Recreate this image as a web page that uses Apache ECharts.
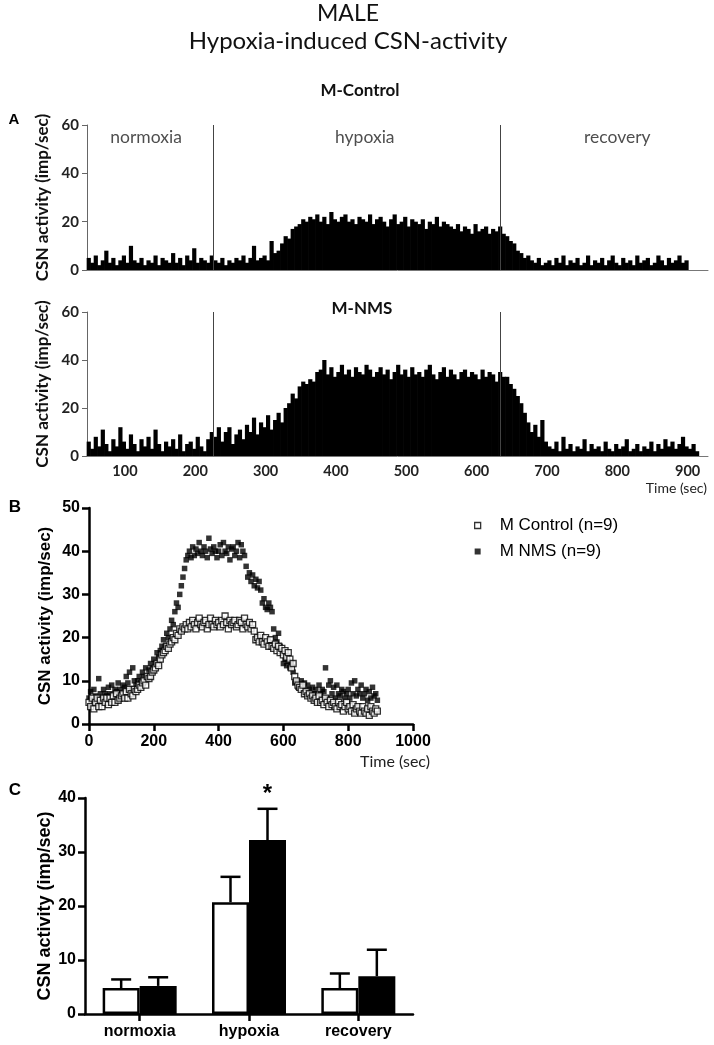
<!DOCTYPE html>
<html>
<head>
<meta charset="utf-8">
<script src="https://cdn.jsdelivr.net/npm/echarts@6/dist/echarts.min.js"></script>
<style>
  html, body { margin: 0; padding: 0; background: #fff; }
  #chart { width: 714px; height: 1045px; }
</style>
</head>
<body>
<div id="chart"></div>
<script>
// ---- panel A : single-fibre rate histograms, 5 s bins starting at traceStart (sec)
var traceStart = 46;
var traceBin = 5;
var ctrlTrace = [
  5,3,6,2,4,8,3,5,2,4, 6,3,10,4,3,5,2,4,3,6, 2,5,4,3,7,3,5,2,6,4, 9,3,5,4,3,6,
  4,3,5,2,4,3,5,4,6,3, 5,10,4,5,6,4,12,7,
  8,11,14,13,17,18,19,21,20,22,
  21,23,20,22,19,24,21,20,22,23, 20,21,19,22,21,20,23,19,21,22, 20,18,21,23,19,20,22,18,21,20, 19,21,17,20,19,22,18,20,19,
  18,17,19,16,18,17,15,19,16,17, 18,15,17,16,18,
  15,14,12,11,8,7,5,6,
  4,3,5,2,3,4,2,5,3,6, 2,4,3,5,2,3,6,2,4,3, 5,2,4,6,3,2,5,3,4,2, 6,3,4,5,2,3,6,4,2,5, 3,4,6,3,4
];
var nmsTrace = [
  6,3,8,4,11,5,2,7,4,12, 6,3,9,5,2,7,4,8,3,11, 5,2,6,4,7,3,9,2,5,6, 3,8,4,2,7,10,
  8,12,6,10,12,5,9,11,7,13, 10,16,9,14,12,17,11,15,18,14, 20,22,
  26,24,29,31,30,32,31,35,
  36,40,34,37,33,35,38,34,36,33, 37,35,34,38,36,33,35,37,34,36, 32,35,38,34,36,33,37,34,35,33,
  36,38,34,32,35,37,33,36,34,32, 35,36,33,35,34,32,36,33,35,34, 31,35,33,
  33,30,28,25,22,18,14,10,13,8, 15,6,
  4,3,6,2,8,3,5,2,4,3, 7,2,5,3,4,2,6,3,2,5, 3,4,7,2,3,5,2,4,3,6, 2,5,3,7,4,6,3,5,8,4, 3,5,2
];
var hypoxiaOn = 226;
var hypoxiaOff = 633;
var phaseNames = ['normoxia', 'hypoxia', 'recovery'];
var phaseLabelTimes = [130, 441, 800];
var traceTicks = [100, 200, 300, 400, 500, 600, 700, 800, 900];

// ---- panel B : group means, one point every 5 s from 0 s
var scatterStep = 5;
var ctrlMeanTrace = [
  5,4,6,3.5,5,6,4,5.5,4,6,
  5,6,4.5,6,5,6.5,5,7,5.5,6,
  6.5,7,6,7.5,6,8,7,6.5,8,7.5,
  8,9,8.5,9.5,10,9,11,10.5,11,12,
  12.5,13,14,13.5,15,16,16.5,17,18,17.5,
  18.5,19,20,19.5,21,20.5,22,21.5,22.5,22,
  23,22,23.5,22.5,24,23,22,23.5,24.5,23,
  22.5,23.5,24,22,23,24.5,23,22.5,24,23,
  23.5,22.5,24,23,25,23.5,22,24,23,23.5,
  24,22.5,23,24,23.5,22,24.5,23,22.5,23.5,
  22,23,21.5,19.5,20,19,20.5,19,18.5,20,
  19,18,19.5,18,17.5,18.5,17,18,16.5,17.5,
  16,17,15.5,16.5,15,13,14,11,10,9,
  8.5,8,9,7,7.5,6.5,7,6,6.5,5.5,
  6,5,6.5,5,5.5,4.5,6,5,4,5.5,
  4.5,5,4,3.5,5,4,4.5,3,4,5,
  3.5,4,3,4.5,2.5,3.5,4,3,2.5,4,
  3,2.5,3.5,2,4,3,2.5,3.5,3
];
var nmsMeanTrace = [
  6,7.5,5.5,8,6.5,5,10.5,7,6,8,
  7,6.5,8.5,7,9,6.5,8,7.5,9.5,8,
  7,9,8.5,11,9.5,12,8,13,10,9,
  10,11,9.5,12,11,13,10.5,12.5,14,13,
  15,14,16.5,15.5,17,18,19.5,18,21,20,
  22,24,23,26,28,27,30,32,34,36,
  38,39,40,38.5,41,39,40.5,39.5,42,40,
  39,41,40,38.5,43,40.5,39.5,41,40,38.5,
  40,41.5,39,42,40,39.5,41,38,40.5,41,
  39,40,42,38.5,41.5,40,39,36.5,34,35,
  33,34.5,32,33.5,31.5,33,31,28,29,27,
  26.5,28,27,26,22,20,19,21,18,17,
  14,15,13.5,14.5,13,14,12,9.5,10,8.5,
  9,10,8,9.5,7.5,9,8,7,8.5,7,
  8,6.5,9,7,8,7.5,13,6,9,10,
  7,8.5,6,9,7,6.5,8,7.5,6,7,
  8,6,9.5,7,10,6.5,8,7,9,6,
  7,8,5.5,7.5,6,8.5,6.5,7,5.5
];

// ---- panel C : phase means with SEM
var ctrlMean = [4.8, 20.7, 4.8];
var ctrlSem = [1.6, 4.7, 2.7];
var nmsMean = [5.2, 32.2, 7.0];
var nmsSem = [1.6, 5.8, 4.9];
var sigMarks = ['', '*', ''];

var CALIBRI = 'Lato, "Open Sans", sans-serif';
var ARIAL = '"Liberation Sans", Arial, sans-serif';
var BAR_W = 37;

function histData(values) {
  return values.map(function (v, i) { return [traceStart + i * traceBin + traceBin / 2, v]; });
}
function scatterData(values) {
  return values.map(function (v, i) { return [i * scatterStep, v]; });
}

function phaseMarks() {
  return {
    silent: true,
    symbol: 'none',
    label: { show: false },
    lineStyle: { color: '#444', width: 1, type: 'solid' },
    data: [{ xAxis: hypoxiaOn }, { xAxis: hypoxiaOff }]
  };
}

function traceY(grid) {
  return {
    gridIndex: grid, type: 'value', min: 0, max: 60, interval: 20,
    name: 'CSN activity (imp/sec)', nameLocation: 'middle', nameGap: 32,
    nameTextStyle: { fontFamily: CALIBRI, fontWeight: 'bold', fontSize: 17, color: '#111' },
    axisLine: { show: true, lineStyle: { color: '#666', width: 1 } },
    axisTick: { show: true, length: 5, lineStyle: { color: '#666' } },
    axisLabel: { fontFamily: CALIBRI, fontWeight: 'bold', fontSize: 15, color: '#222', margin: 8 },
    splitLine: { show: false }
  };
}

function traceX(grid, withLabels) {
  return {
    gridIndex: grid, type: 'value', min: traceStart, max: 929,
    axisLine: { show: true, onZero: false, lineStyle: { color: '#777', width: 1 } },
    axisTick: { show: false },
    axisLabel: {
      show: withLabels, customValues: traceTicks,
      fontFamily: CALIBRI, fontWeight: 'bold', fontSize: 14.5, color: '#222', margin: 8
    },
    splitLine: { show: false }
  };
}

// error bars drawn on top of the grouped bars
function errorBars(offset, marks) {
  return function (params, api) {
    var i = api.value(0), m = api.value(1), s = api.value(2);
    var base = api.coord([i, m]);
    var top = api.coord([i, m + s]);
    var x = base[0] + offset;
    var style = { stroke: '#000', lineWidth: 2.5 };
    var kids = [
      { type: 'line', shape: { x1: x, y1: base[1], x2: x, y2: top[1] }, style: style },
      { type: 'line', shape: { x1: x - 10, y1: top[1], x2: x + 10, y2: top[1] }, style: style }
    ];
    if (marks && marks[i]) {
      kids.push({ type: 'text', style: {
        text: marks[i], x: x, y: top[1] - 14, align: 'center', verticalAlign: 'middle',
        font: 'bold 24px ' + ARIAL, fill: '#000'
      } });
    }
    return { type: 'group', children: kids };
  };
}

var chart = echarts.init(document.getElementById('chart'), null, { renderer: 'canvas' });

var texts = [
  ['MALE', 348, 14, '23px ' + CALIBRI, 'center', '#111'],
  ['Hypoxia-induced CSN-activity', 348, 41, '24px ' + CALIBRI, 'center', '#111'],
  ['M-Control', 360, 91, 'bold 17px ' + CALIBRI, 'center', '#111'],
  ['M-NMS', 362, 309, 'bold 17px ' + CALIBRI, 'center', '#111'],
  ['A', 14, 120, 'bold 15px ' + ARIAL, 'center', '#000'],
  ['B', 15, 507, 'bold 17px ' + ARIAL, 'center', '#000'],
  ['C', 15, 790, 'bold 17px ' + ARIAL, 'center', '#000'],
  ['Time (sec)', 707, 488, '14px ' + CALIBRI, 'right', '#222'],
  ['Time (sec)', 430, 762, '16px ' + CALIBRI, 'right', '#222']
];
var graphics = texts.map(function (t) {
  return { type: 'text', silent: true, style: {
    text: t[0], x: t[1], y: t[2], font: t[3], align: t[4], verticalAlign: 'middle', fill: t[5]
  } };
});

chart.setOption({
  animation: false,
  backgroundColor: '#fff',
  grid: [
    { left: 87, width: 621, top: 125, height: 145 },
    { left: 87, width: 621, top: 312, height: 144 },
    { left: 89, width: 324, top: 508, height: 216 },
    { left: 85, width: 328, top: 798, height: 216 }
  ],
  legend: {
    orient: 'vertical', left: 469, top: 512, itemWidth: 6, itemHeight: 6, itemGap: 9,
    textStyle: { fontFamily: ARIAL, fontSize: 17, color: '#000', padding: [0, 0, 0, 14] },
    data: [
      { name: 'M Control (n=9)', icon: 'rect', itemStyle: { color: '#fff', borderColor: '#000', borderWidth: 1.3 } },
      { name: 'M NMS (n=9)', icon: 'rect', itemStyle: { color: '#000' } }
    ]
  },
  xAxis: [
    traceX(0, false),
    traceX(1, true),
    {
      gridIndex: 2, type: 'value', min: 0, max: 1000, interval: 200,
      axisLine: { show: true, onZero: false, lineStyle: { color: '#000', width: 2.5 } },
      axisTick: { show: true, length: 7, lineStyle: { color: '#000', width: 2.5 } },
      axisLabel: {
        fontFamily: ARIAL, fontWeight: 'bold', fontSize: 16, color: '#000', margin: 10,
        formatter: function (v) { return String(v); }
      },
      splitLine: { show: false }
    },
    {
      gridIndex: 3, type: 'category', data: phaseNames,
      axisLine: { show: true, lineStyle: { color: '#000', width: 2.5 } },
      axisTick: { show: true, alignWithLabel: true, length: 7, lineStyle: { color: '#000', width: 2.5 } },
      axisLabel: { fontFamily: ARIAL, fontWeight: 'bold', fontSize: 16, color: '#000', margin: 10 }
    }
  ],
  yAxis: [
    traceY(0),
    traceY(1),
    {
      gridIndex: 2, type: 'value', min: 0, max: 50, interval: 10,
      name: 'CSN activity (imp/sec)', nameLocation: 'middle', nameGap: 35,
      nameTextStyle: { fontFamily: ARIAL, fontWeight: 'bold', fontSize: 17, color: '#000' },
      axisLine: { show: true, lineStyle: { color: '#000', width: 2.5 } },
      axisTick: { show: true, length: 7, lineStyle: { color: '#000', width: 2.5 } },
      axisLabel: { fontFamily: ARIAL, fontWeight: 'bold', fontSize: 16, color: '#000', margin: 9 },
      splitLine: { show: false }
    },
    {
      gridIndex: 3, type: 'value', min: 0, max: 40, interval: 10,
      name: 'CSN activity (imp/sec)', nameLocation: 'middle', nameGap: 30,
      nameTextStyle: { fontFamily: ARIAL, fontWeight: 'bold', fontSize: 18, color: '#000' },
      axisLine: { show: true, lineStyle: { color: '#000', width: 2.5 } },
      axisTick: { show: true, length: 7, lineStyle: { color: '#000', width: 2.5 } },
      axisLabel: { fontFamily: ARIAL, fontWeight: 'bold', fontSize: 16, color: '#000', margin: 9 },
      splitLine: { show: false }
    }
  ],
  graphic: graphics,
  series: [
    {
      name: 'ctrlTrace', type: 'bar', xAxisIndex: 0, yAxisIndex: 0,
      data: histData(ctrlTrace), barWidth: 4.2, itemStyle: { color: '#000' },
      markLine: phaseMarks()
    },
    {
      name: 'nmsTrace', type: 'bar', xAxisIndex: 1, yAxisIndex: 1,
      data: histData(nmsTrace), barWidth: 4.2, itemStyle: { color: '#000' },
      markLine: phaseMarks()
    },
    {
      // phase names written above the control trace at data positions
      name: 'phases', type: 'scatter', xAxisIndex: 0, yAxisIndex: 0, symbolSize: 0, silent: true,
      data: phaseLabelTimes.map(function (t, i) { return { value: [t, 55], name: phaseNames[i] }; }),
      label: { show: true, position: 'inside', formatter: '{b}', fontFamily: CALIBRI, fontSize: 17.5, color: '#222' }
    },
    {
      name: 'M NMS (n=9)', type: 'scatter', xAxisIndex: 2, yAxisIndex: 2,
      data: scatterData(nmsMeanTrace), symbol: 'rect', symbolSize: 5.5,
      itemStyle: { color: '#000' }
    },
    {
      name: 'M Control (n=9)', type: 'scatter', xAxisIndex: 2, yAxisIndex: 2,
      data: scatterData(ctrlMeanTrace), symbol: 'rect', symbolSize: 6,
      itemStyle: { color: '#fff', borderColor: '#000', borderWidth: 1.3 }
    },
    {
      name: 'ctrlPhase', type: 'bar', xAxisIndex: 3, yAxisIndex: 3,
      data: ctrlMean, barWidth: BAR_W, barGap: '0%',
      itemStyle: { color: '#fff', borderColor: '#000', borderWidth: 2.5 }
    },
    {
      name: 'nmsPhase', type: 'bar', xAxisIndex: 3, yAxisIndex: 3,
      data: nmsMean, barWidth: BAR_W, barGap: '0%',
      itemStyle: { color: '#000', borderColor: '#000', borderWidth: 2.5 }
    },
    {
      name: 'ctrlSem', type: 'custom', xAxisIndex: 3, yAxisIndex: 3, z: 5, clip: false,
      renderItem: errorBars(-BAR_W / 2, null),
      encode: { x: 0, y: 1 },
      data: ctrlMean.map(function (m, i) { return [i, m, ctrlSem[i]]; })
    },
    {
      name: 'nmsSem', type: 'custom', xAxisIndex: 3, yAxisIndex: 3, z: 5, clip: false,
      renderItem: errorBars(BAR_W / 2, sigMarks),
      encode: { x: 0, y: 1 },
      data: nmsMean.map(function (m, i) { return [i, m, nmsSem[i]]; })
    }
  ]
});
</script>
</body>
</html>
